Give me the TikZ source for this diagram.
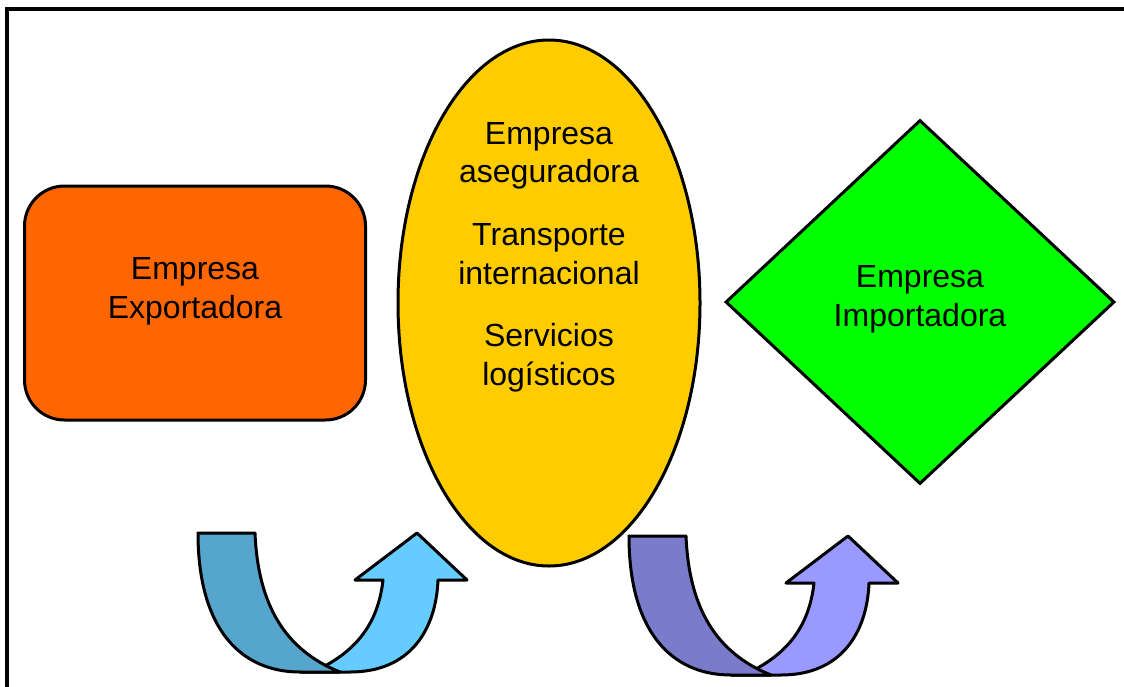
\documentclass[tikz,border=0pt]{standalone}
\usepackage{fontspec}
\setmainfont{Liberation Sans}
\usetikzlibrary{shapes.geometric}
\definecolor{exporange}{HTML}{FF6600}
\definecolor{segyellow}{HTML}{FFCC00}
\definecolor{impgreen}{HTML}{00FF00}
\definecolor{bluedark}{HTML}{55A5CC}
\definecolor{bluelight}{HTML}{66CCFF}
\definecolor{violetdark}{HTML}{7B7BCB}
\definecolor{violetlight}{HTML}{9999FF}

\begin{document}
\begin{tikzpicture}[x=0.75pt,y=-0.75pt,
	block/.style={draw, line width=2.25pt},
	txt/.style={align=center, font=\fontsize{24}{29}\selectfont},
	band/.style={draw, line width=2.25pt, line join=round}]
\useasboundingbox (0,0) rectangle (1124,686);
\clip (0,0) rectangle (1124,686);
\draw [line width=3pt] (7,9) rectangle (1140,710);

% empresas
\node [block, fill=exporange, rounded corners=30pt, minimum width=255.75pt, minimum height=175.5pt] (exp) at (195,303) {};
\node [txt] (exptxt) at (195,291) {Empresa\\Exportadora};
\node [block, fill=segyellow, ellipse, minimum width=226.5pt, minimum height=394.5pt] (seg) at (549,303) {};
\node [txt] (segtxt) at (549,257) {Empresa\\aseguradora\\[18pt]Transporte\\internacional\\[18pt]Servicios\\log\'isticos};
\node [block, fill=impgreen, diamond, minimum width=291.75pt, minimum height=273pt, inner sep=0pt] (imp) at (920,302) {};
\node [txt] (imptxt) at (920,299) {Empresa\\Importadora};

% flechas en U
\foreach \dx/\dy/\dark/\light in {0/0/bluedark/bluelight, 431/3/violetdark/violetlight}
{
	\begin{scope}[shift={(\dx,\dy)}]
	\draw [band, fill=\light] (300,672) -- (350,672)
		.. controls (410,672) and (436,630) .. (438,580)
		-- (467,580) -- (417,533) -- (355,580) -- (383,580)
		.. controls (378,625) and (355,650) .. (323,667) -- cycle;
	\draw [band, fill=\dark] (198,533) -- (255,533)
		.. controls (258,605) and (285,650) .. (340,672)
		-- (300,672) .. controls (240,672) and (198,628) .. cycle;
	\end{scope}
}
\end{tikzpicture}
\end{document}
